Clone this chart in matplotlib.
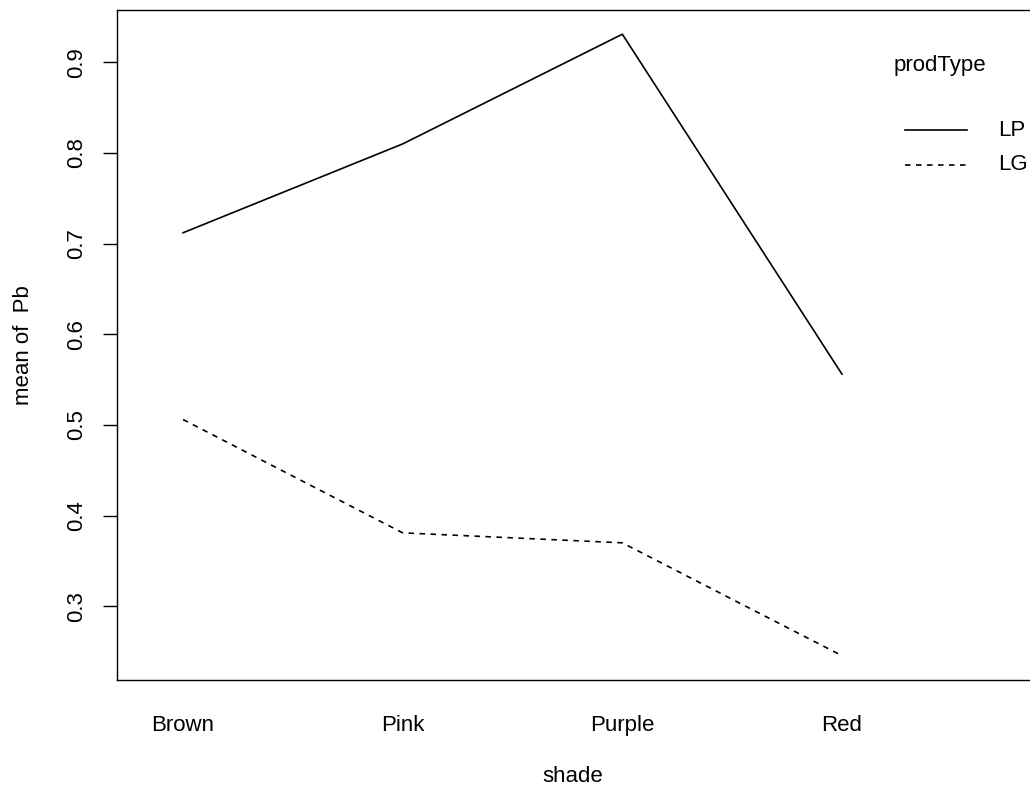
import matplotlib
matplotlib.use("Agg")
import matplotlib.pyplot as plt
from matplotlib.lines import Line2D

# --- data (mean of Pb per shade / prodType) ---
shades = ["Brown", "Pink", "Purple", "Red"]
prod_types = ["LP", "LG"]
mean_lp = [0.712, 0.810, 0.931, 0.556]
mean_lg = [0.506, 0.381, 0.370, 0.2455]
y_ticks = [0.3, 0.4, 0.5, 0.6, 0.7, 0.8, 0.9]

W, H = 1030, 793
plt.rcParams['font.family'] = ['Liberation Sans', 'DejaVu Sans']
plt.rcParams['font.size'] = 16

fig = plt.figure(figsize=(W / 100, H / 100), dpi=100)

# plot region in pixels (left, top, right, bottom)
L, T, R, B = 116.5, 10, 1030, 680
ax = fig.add_axes([L / W, 1 - B / H, (R - L) / W, (B - T) / H])

x = list(range(1, len(shades) + 1))
ax.plot(x, mean_lp, color='black', lw=1.2, linestyle='-')
ax.plot(x, mean_lg, color='black', lw=1.2, linestyle=(0, (3.3, 3.3)))

ax.set_xlim(0.697, 4.856)
ax.set_ylim(0.2187, 0.9577)

ax.set_xticks(x)
ax.set_xticklabels(shades)
ax.set_yticks(y_ticks)
ax.set_yticklabels([f"{v:.1f}" for v in y_ticks])
ax.tick_params(axis='x', length=0, pad=25)
ax.tick_params(axis='y', length=10, width=1.0, pad=11, labelrotation=90)
for lab in ax.get_yticklabels():
    lab.set_va('center')

for s in ['left', 'top', 'bottom']:
    ax.spines[s].set_linewidth(1.0)
ax.spines['right'].set_visible(False)

fig.text(573 / W, 1 - 776.7 / H, "shade", ha='center', va='center')
fig.text(24 / W, 1 - 345 / H, "mean of  Pb", ha='center', va='center', rotation=90)

# legend (R interaction.plot style)
fig.text(940 / W, 1 - 65 / H, "prodType", ha='center', va='center')
leg_y = [130, 165]
styles = ['-', (0, (3.3, 3.3))]
for name, ly, st in zip(prod_types, leg_y, styles):
    fig.add_artist(Line2D([905 / W, 967 / W], [1 - ly / H, 1 - ly / H],
                          transform=fig.transFigure, color='black', lw=1.2, linestyle=st))
    fig.text(998 / W, 1 - ly / H, name, ha='left', va='center')

fig.savefig("out.png", dpi=100)
